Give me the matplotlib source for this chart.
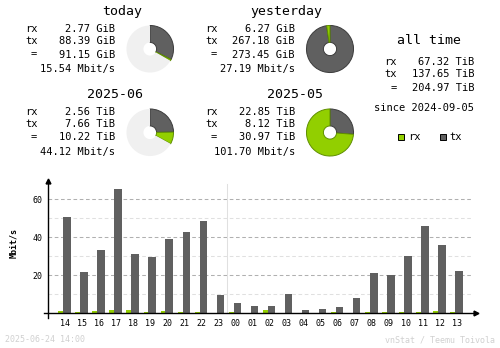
import numpy as np
import matplotlib
matplotlib.use("Agg")
import matplotlib.pyplot as plt

# ---------------------------------------------
# data
# ---------------------------------------------
hours = ['14', '15', '16', '17', '18', '19', '20', '21', '22', '23', '00', '01',
         '02', '03', '04', '05', '06', '07', '08', '09', '10', '11', '12', '13']
rx_rate = [1.2, 0.7, 1.2, 1.8, 1.8, 0.7, 1.2, 0.7, 0.7, 0.0, 0.7, 0.0,
           1.8, 0.0, 0.0, 0.0, 0.7, 0.0, 0.7, 0.7, 0.7, 0.7, 1.2, 0.7]
tx_rate = [50.8, 21.7, 33.3, 65.4, 31.2, 29.6, 39.1, 42.8, 48.6, 9.6, 5.4, 3.9,
           3.9, 10.1, 1.7, 2.3, 3.4, 8.1, 21.3, 20.3, 30.3, 46.1, 36.1, 22.4]

# summary blocks: title, rx, tx, total, rate, pie fraction values
titles = ['today', 'yesterday', '2025-06', '2025-05']
rx_txt = ['2.77 GiB', '6.27 GiB', '2.56 TiB', '22.85 TiB']
tx_txt = ['88.39 GiB', '267.18 GiB', '7.66 TiB', '8.12 TiB']
tot_txt = ['91.15 GiB', '273.45 GiB', '10.22 TiB', '30.97 TiB']
rate_txt = ['15.54 Mbit/s', '27.19 Mbit/s', '44.12 Mbit/s', '101.70 Mbit/s']
rx_val = [2.77, 6.27, 2.56, 22.85]
tx_val = [88.39, 267.18, 7.66, 8.12]
ref_total = [273.45, 273.45, 30.97, 30.97]   # pie is drawn relative to previous period

alltime_rx = '67.32 TiB'
alltime_tx = '137.65 TiB'
alltime_tot = '204.97 TiB'
since = 'since 2024-09-05'
stamp = '2025-06-24 14:00'

rx_color = '#92cf00'
tx_color = '#606060'
W, H = 500, 348
mono = 'DejaVu Sans Mono'

fig = plt.figure(figsize=(5, 3.48), dpi=100)
fig.patch.set_facecolor('white')


def px_axes(x0, y0, x1, y1):
    # pixel box, origin top-left
    return fig.add_axes([x0 / W, 1 - y1 / H, (x1 - x0) / W, (y1 - y0) / H])


# ---------------------------------------------
# pies
# ---------------------------------------------
pie_centers = [(150, 49), (330, 49), (150, 132.5), (330, 132.5)]
for i, (cx, cy) in enumerate(pie_centers):
    pa = px_axes(cx - 24, cy - 24, cx + 24, cy + 24)
    rest = max(ref_total[i] - rx_val[i] - tx_val[i], 0)
    wedges, _ = pa.pie([tx_val[i], rx_val[i], rest],
                       colors=[tx_color, rx_color, '#f0f0f0'],
                       startangle=90, counterclock=False, radius=1,
                       wedgeprops=dict(width=0.72))
    wedges[0].set_edgecolor('#3c3c3c')
    wedges[0].set_linewidth(0.7)
    wedges[1].set_edgecolor('#5f8f00')
    wedges[1].set_linewidth(0.7)
    wedges[2].set_edgecolor('none')
    pa.set_xlim(-1.02, 1.02)
    pa.set_ylim(-1.02, 1.02)
    pa.axis('off')

# ---------------------------------------------
# hourly bar chart
# ---------------------------------------------
slot = 17.03
x0px = 65.0
ax = px_axes(48.3, 179, 478, 313.3)
ax.set_xlim((48.3 - x0px) / slot, (478 - x0px) / slot)
ax.set_ylim(0, (313.3 - 179) / 1.9)
ax.patch.set_alpha(0)
for s in ax.spines.values():
    s.set_visible(False)

x = np.arange(len(hours))
xr = (472.7 - x0px) / slot
for yv in [10, 30, 50]:
    ax.plot([ax.get_xlim()[0], xr], [yv, yv], color='#e0e0e0', lw=0.75,
            dashes=(3.5, 2.5), zorder=1)
for yv in [20, 40, 60]:
    ax.plot([ax.get_xlim()[0], xr], [yv, yv], color='#b0b0b0', lw=0.75,
            dashes=(3.5, 2.5), zorder=1)
ax.plot([9.5, 9.5], [0, 68], color='#e0e0e0', lw=0.75, zorder=1)

ax.bar(x - 0.245, rx_rate, width=0.29, color=rx_color, zorder=2)
ax.bar(x + 0.125, tx_rate, width=0.45, color=tx_color, zorder=2)

# axis lines with arrow heads
ax.plot([(44 - x0px) / slot, (476 - x0px) / slot], [0, 0], color='black', lw=1.0,
        clip_on=False, zorder=3)
ax.plot([ax.get_xlim()[0]] * 2, [-2.5, 69.5], color='black', lw=1.0,
        clip_on=False, zorder=3)
ax.plot([(476 - x0px) / slot], [0], marker='>', color='black', ms=3.5,
        clip_on=False, zorder=3)
ax.plot([ax.get_xlim()[0]], [69.5], marker='^', color='black', ms=3.5,
        clip_on=False, zorder=3)

ax.set_xticks(x)
ax.set_xticklabels(hours, fontsize=6, family=mono)
ax.set_yticks([20, 40, 60])
ax.set_yticklabels(['20', '40', '60'], fontsize=6, family=mono)
ax.tick_params(length=0)
ax.tick_params(axis='x', pad=4)
ax.tick_params(axis='y', pad=4)

# ---------------------------------------------
# text overlay (pixel coordinates)
# ---------------------------------------------
t = fig.add_axes([0, 0, 1, 1])
t.set_xlim(0, W)
t.set_ylim(H, 0)
t.axis('off')
t.patch.set_alpha(0)

title_pos = [(122.5, 11.7), (286, 11.7), (114.5, 94), (294.5, 94)]
label_x = [25, 205, 25, 205]
value_x = [115, 295, 115, 295]
row_y = [[29, 41, 54.5, 69], [29, 41, 54.5, 69],
         [111.7, 124, 137.5, 152], [111.7, 124, 137.5, 152]]
for i in range(4):
    t.text(*title_pos[i], titles[i], ha='center', va='center', fontsize=9.5, family=mono)
    ys = row_y[i]
    t.text(label_x[i], ys[0], 'rx', ha='left', va='center', fontsize=7.5, family=mono)
    t.text(label_x[i], ys[1], 'tx', ha='left', va='center', fontsize=7.5, family=mono)
    t.text(label_x[i] + 12, ys[2], '=', ha='right', va='center', fontsize=7.5, family=mono)
    t.text(value_x[i], ys[0], rx_txt[i], ha='right', va='center', fontsize=7.5, family=mono)
    t.text(value_x[i], ys[1], tx_txt[i], ha='right', va='center', fontsize=7.5, family=mono)
    t.text(value_x[i], ys[2], tot_txt[i], ha='right', va='center', fontsize=7.5, family=mono)
    t.text(value_x[i], ys[3], rate_txt[i], ha='right', va='center', fontsize=7.5, family=mono)

# all time block
t.text(429, 40, 'all time', ha='center', va='center', fontsize=9.5, family=mono)
t.text(384.3, 62.3, 'rx', ha='left', va='center', fontsize=7.5, family=mono)
t.text(384.3, 74.3, 'tx', ha='left', va='center', fontsize=7.5, family=mono)
t.text(396.5, 88.3, '=', ha='right', va='center', fontsize=7.5, family=mono)
t.text(474.3, 62.3, alltime_rx, ha='right', va='center', fontsize=7.5, family=mono)
t.text(474.3, 74.3, alltime_tx, ha='right', va='center', fontsize=7.5, family=mono)
t.text(474.3, 88.3, alltime_tot, ha='right', va='center', fontsize=7.5, family=mono)
t.text(474.3, 108.3, since, ha='right', va='center', fontsize=7.5, family=mono)

# legend
for lx, c, name in [(398.3, rx_color, 'rx'), (440, tx_color, 'tx')]:
    t.add_patch(plt.Rectangle((lx, 133.5), 6, 6, facecolor=c, edgecolor='black', lw=0.7))
    t.text(lx + 9.5, 136.7, name, ha='left', va='center', fontsize=7.5, family=mono)

# y label and footer
t.text(14, 243, 'Mbit/s', rotation=90, ha='center', va='center', fontsize=6,
       family=mono, fontweight='bold')
t.text(5, 340, stamp, ha='left', va='center', fontsize=6, family=mono, color='#d0d0d0')
t.text(495, 340, 'vnStat / Teemu Toivola', ha='right', va='center', fontsize=6,
       family=mono, color='#d0d0d0')

fig.savefig('out.png', dpi=100, facecolor='white')
